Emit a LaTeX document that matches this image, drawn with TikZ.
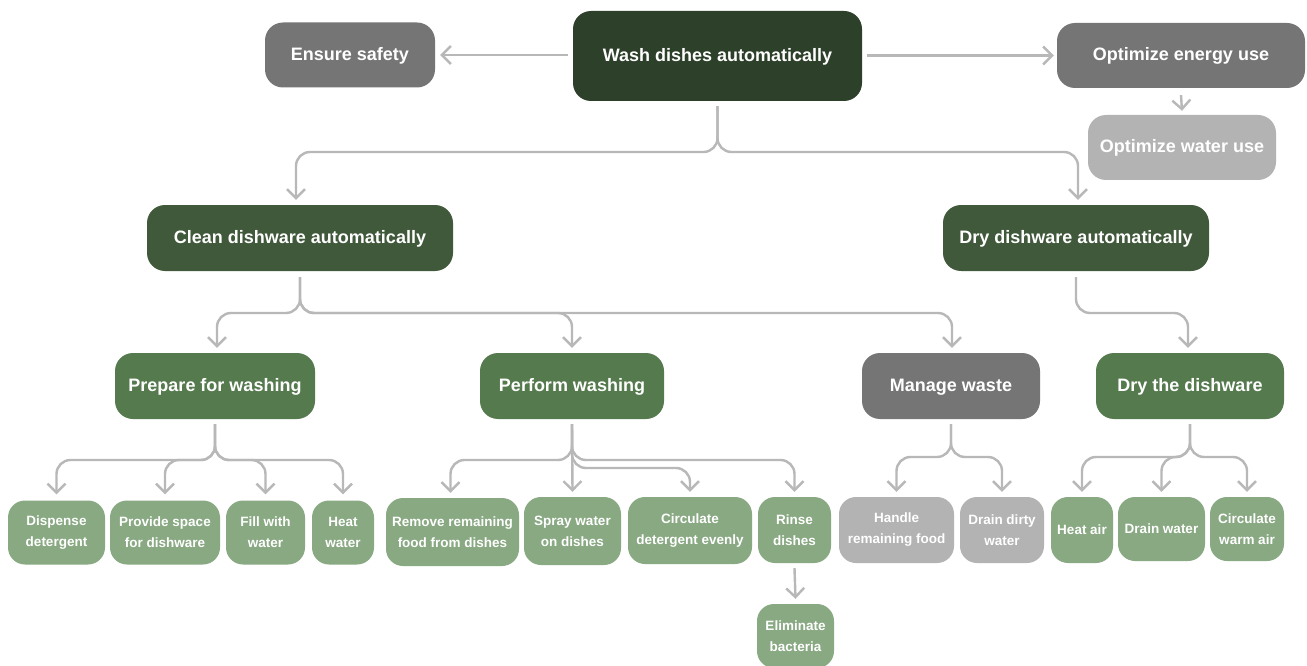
\documentclass[tikz,border=0pt]{standalone}
\usepackage{fontspec}
\setmainfont{Liberation Sans}
\usetikzlibrary{arrows.meta}
\definecolor{cTop}{HTML}{2D4029}
\definecolor{cMid}{HTML}{41593B}
\definecolor{cSub}{HTML}{557A4E}
\definecolor{cLeaf}{HTML}{88A982}
\definecolor{cGray}{HTML}{757575}
\definecolor{cLight}{HTML}{B3B3B3}
\definecolor{cConn}{HTML}{B8B8B8}
\begin{document}
\begin{tikzpicture}[x=1pt,y=-1pt,
  box/.style={rounded corners=18pt, inner sep=0pt, text=white, align=center,
    text height=13pt, text depth=2pt,
    font=\bfseries\fontsize{18}{21}\selectfont},
  leaf/.style={box, fill=cLeaf, minimum height=64pt, rounded corners=17pt,
    text height=, text depth=,
    font=\bfseries\fontsize{13.5}{21}\selectfont},
  grayleaf/.style={leaf, fill=cLight},
  conn/.style={draw=cConn, line width=2.4pt, rounded corners=14pt,
    -{Straight Barb[length=9pt,width=18pt]}}]
\useasboundingbox (0,0) rectangle (1307,666);
\fill[white] (0,0) rectangle (1307,666);

% level 0/1
\node[box, fill=cTop, minimum width=289pt, minimum height=90pt] (wash) at (717.5,56) {Wash dishes automatically};
\node[box, fill=cGray, minimum width=170pt, minimum height=65pt] (safe) at (350,55) {Ensure safety};
\node[box, fill=cGray, minimum width=248pt, minimum height=65pt] (energy) at (1181,55.5) {Optimize energy use};
\node[box, fill=cLight, minimum width=188pt, minimum height=65pt] (water) at (1182,147.5) {Optimize water use};
\node[box, fill=cMid, minimum width=306pt, minimum height=66pt] (clean) at (300,238) {Clean dishware automatically};
\node[box, fill=cMid, minimum width=266pt, minimum height=66pt] (drya) at (1076,238) {Dry dishware automatically};

% level 2
\node[box, fill=cSub, minimum width=200pt, minimum height=66pt] (prep) at (215,386) {Prepare for washing};
\node[box, fill=cSub, minimum width=184pt, minimum height=66pt] (perf) at (572,386) {Perform washing};
\node[box, fill=cGray, minimum width=178pt, minimum height=66pt] (waste) at (951,386) {Manage waste};
\node[box, fill=cSub, minimum width=188pt, minimum height=66pt] (dryt) at (1190,386) {Dry the dishware};

% leaves
\node[leaf, minimum width=97pt] (disp) at (56.5,532.5) {Dispense\\detergent};
\node[leaf, minimum width=110pt] (space) at (165,532.5) {Provide space\\for dishware};
\node[leaf, minimum width=79pt] (fill) at (265.5,532.5) {Fill with\\water};
\node[leaf, minimum width=62pt] (heatw) at (343,532.5) {Heat\\water};
\node[leaf, minimum width=133pt, minimum height=68pt] (remove) at (452.5,532) {Remove remaining\\food from dishes};
\node[leaf, minimum width=97pt, minimum height=68pt] (spray) at (572.5,531) {Spray water\\on dishes};
\node[leaf, minimum width=124pt, minimum height=67pt] (circd) at (690,530.5) {Circulate\\detergent evenly};
\node[leaf, minimum width=73pt, minimum height=66pt] (rinse) at (794.5,530) {Rinse\\dishes};
\node[leaf, minimum width=77pt, minimum height=64pt] (elim) at (795.5,636) {Eliminate\\bacteria};
\node[grayleaf, minimum width=115pt, minimum height=66pt] (handle) at (896.5,530) {Handle\\remaining food};
\node[grayleaf, minimum width=84pt, minimum height=66pt] (draind) at (1002,530) {Drain dirty\\water};
\node[leaf, minimum width=62pt, minimum height=66pt] (heata) at (1082,530) {Heat air};
\node[leaf, minimum width=87pt, minimum height=64pt] (drainw) at (1161.5,529) {Drain water};
\node[leaf, minimum width=74pt, minimum height=64pt] (circa) at (1247,529) {Circulate\\warm air};

% bus levels
\coordinate (b0) at (0,152);
\coordinate (b1) at (0,313);
\coordinate (b2) at (0,460);
\coordinate (b2b) at (0,468);
\coordinate (b3) at (0,457);

% top connectors
\draw[conn] ([xshift=-5pt]wash.west |- safe.east) -- ([xshift=5pt]safe.east);
\draw[conn] ([xshift=5pt]wash.east |- energy.west) -- ([xshift=-3pt]energy.west);
\draw[conn] ([yshift=-7pt]energy.south) -- ([yshift=4pt]water.north);
\draw[conn] ([yshift=-5pt]wash.south) -- (wash.south |- b0) -| ([xshift=-4pt,yshift=5pt]clean.north);
\draw[conn] ([yshift=-5pt]wash.south) -- (wash.south |- b0) -| ([xshift=2pt,yshift=5pt]drya.north);

% level 1 -> 2
\draw[conn] ([yshift=-6pt]clean.south) -- (clean.south |- b1) -| ([xshift=2pt,yshift=5pt]prep.north);
\draw[conn] ([yshift=-6pt]clean.south) -- (clean.south |- b1) -| ([yshift=5pt]perf.north);
\draw[conn] ([yshift=-6pt]clean.south) -- (clean.south |- b1) -| ([xshift=1pt,yshift=5pt]waste.north);
\draw[conn] ([yshift=-6pt]drya.south) -- (drya.south |- b1) -| ([xshift=-2pt,yshift=5pt]dryt.north);

% prepare -> leaves
\foreach \c in {disp,space,fill,heatw}
  \draw[conn] ([yshift=-5pt]prep.south) -- (prep.south |- b2) -| ([yshift=6pt]\c.north);

% perform -> leaves
\draw[conn] ([yshift=-5pt]perf.south) -- (perf.south |- b2) -| ([xshift=-2pt,yshift=5pt]remove.north);
\draw[conn] ([yshift=-5pt]perf.south) -- ([yshift=5pt]spray.north);
\draw[conn] ([yshift=-5pt]perf.south) -- (perf.south |- b2b) -| ([yshift=5pt]circd.north);
\draw[conn] ([yshift=-5pt]perf.south) -- (perf.south |- b2) -| ([yshift=5pt]rinse.north);
\draw[conn] ([yshift=-5pt]rinse.south) -- ([yshift=5pt]elim.north);

% waste -> leaves
\draw[conn] ([yshift=-5pt]waste.south) -- (waste.south |- b3) -| ([yshift=5pt]handle.north);
\draw[conn] ([yshift=-5pt]waste.south) -- (waste.south |- b3) -| ([yshift=5pt]draind.north);

% dry -> leaves
\draw[conn] ([yshift=-5pt]dryt.south) -- (dryt.south |- b3) -| ([yshift=5pt]heata.north);
\draw[conn] ([yshift=-5pt]dryt.south) -- (dryt.south |- b3) -| ([yshift=5pt]drainw.north);
\draw[conn] ([yshift=-5pt]dryt.south) -- (dryt.south |- b3) -| ([yshift=5pt]circa.north);
\end{tikzpicture}
\end{document}
